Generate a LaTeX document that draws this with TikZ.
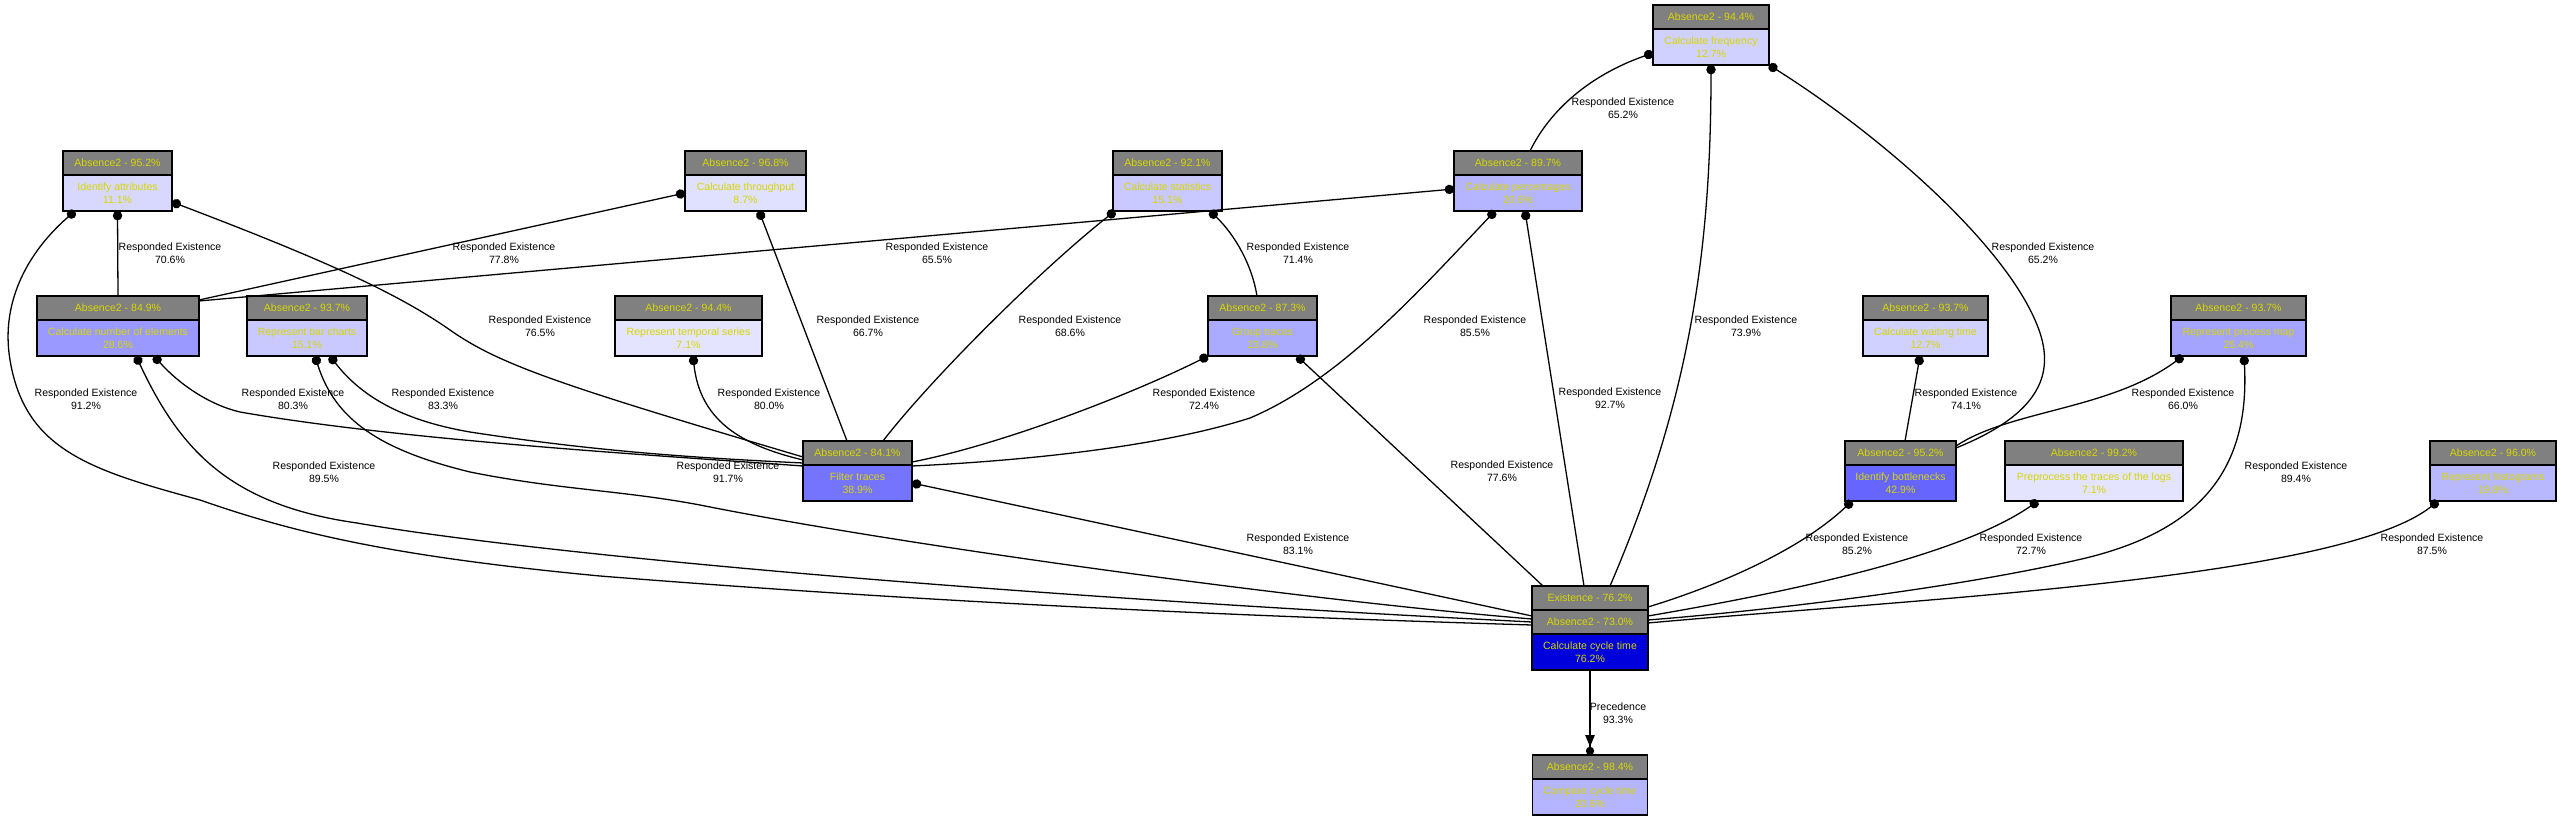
\documentclass[tikz,border=0pt]{standalone}
\usepackage{fontspec}
\setmainfont{Liberation Sans}
\usepackage{tikz}
\usetikzlibrary{arrows.meta,positioning,calc}
\definecolor{hdgray}{RGB}{128,128,128}
\definecolor{txtyellow}{RGB}{215,215,0}
\definecolor{f071}{RGB}{228,228,255}
\definecolor{f087}{RGB}{224,224,255}
\definecolor{f111}{RGB}{216,216,255}
\definecolor{f127}{RGB}{209,209,255}
\definecolor{f151}{RGB}{201,201,255}
\definecolor{f198}{RGB}{184,184,255}
\definecolor{f206}{RGB}{181,181,255}
\definecolor{f238}{RGB}{170,170,255}
\definecolor{f254}{RGB}{164,164,255}
\definecolor{f286}{RGB}{153,153,255}
\definecolor{f389}{RGB}{116,116,255}
\definecolor{f429}{RGB}{102,102,255}
\definecolor{f762}{RGB}{0,0,221}
\newdimen\px
\px=0.03cm

\begin{document}
\begin{tikzpicture}[
  x=0.03cm, y=-0.03cm,
  font=\fontsize{9}{11}\selectfont,
  hdr/.style={
    draw=black,
    line width=1.2pt,
    fill=hdgray,
    text=txtyellow,
    minimum height=24\px,
    outer sep=0pt,
    inner sep=1pt
  },
  act/.style={
    draw=black,
    line width=1.2pt,
    text=txtyellow,
    minimum height=36\px,
    outer sep=0pt,
    inner sep=1pt,
    align=center
  },
  re/.style={draw, line width=1.1pt, {Circle[length=8pt]}-},
  lbl/.style={align=center, inner sep=0pt}
]
\useasboundingbox (0,0) rectangle (2561,821);

\node[act,fill=f111,minimum width=109\px] (attr) at (117.5,193) {Identify attributes\\11.1\%};
\node[hdr,minimum width=109\px,above=0pt of attr] (attrh) {Absence2 - 95.2\%};
\node[act,fill=f286,minimum width=162\px] (nelem) at (118,338) {Calculate number of elements\\28.6\%};
\node[hdr,minimum width=162\px,above=0pt of nelem] (nelemh) {Absence2 - 84.9\%};
\node[act,fill=f151,minimum width=120\px] (bars) at (307,338) {Represent bar charts\\15.1\%};
\node[hdr,minimum width=120\px,above=0pt of bars] (barsh) {Absence2 - 93.7\%};
\node[act,fill=f087,minimum width=121\px] (thru) at (745.5,193) {Calculate throughput\\8.7\%};
\node[hdr,minimum width=121\px,above=0pt of thru] (thruh) {Absence2 - 96.8\%};
\node[act,fill=f071,minimum width=147\px] (temp) at (688.5,338) {Represent temporal series\\7.1\%};
\node[hdr,minimum width=147\px,above=0pt of temp] (temph) {Absence2 - 94.4\%};
\node[act,fill=f151,minimum width=109\px] (stats) at (1167.5,193) {Calculate statistics\\15.1\%};
\node[hdr,minimum width=109\px,above=0pt of stats] (statsh) {Absence2 - 92.1\%};
\node[act,fill=f238,minimum width=109\px] (group) at (1262.5,338) {Group traces\\23.8\%};
\node[hdr,minimum width=109\px,above=0pt of group] (grouph) {Absence2 - 87.3\%};
\node[act,fill=f206,minimum width=128\px] (perc) at (1518,193) {Calculate percentages\\20.6\%};
\node[hdr,minimum width=128\px,above=0pt of perc] (perch) {Absence2 - 89.7\%};
\node[act,fill=f127,minimum width=116\px] (freq) at (1711,47) {Calculate frequency\\12.7\%};
\node[hdr,minimum width=116\px,above=0pt of freq] (freqh) {Absence2 - 94.4\%};
\node[act,fill=f127,minimum width=125\px] (wait) at (1925.5,338) {Calculate waiting time\\12.7\%};
\node[hdr,minimum width=125\px,above=0pt of wait] (waith) {Absence2 - 93.7\%};
\node[act,fill=f254,minimum width=135\px] (pmap) at (2238.5,338) {Represent process map\\25.4\%};
\node[hdr,minimum width=135\px,above=0pt of pmap] (pmaph) {Absence2 - 93.7\%};
\node[act,fill=f429,minimum width=111\px] (bottle) at (1900.5,483) {Identify bottlenecks\\42.9\%};
\node[hdr,minimum width=111\px,above=0pt of bottle] (bottleh) {Absence2 - 95.2\%};
\node[act,fill=f071,minimum width=178\px] (prep) at (2094,483) {Preprocess the traces of the logs\\7.1\%};
\node[hdr,minimum width=178\px,above=0pt of prep] (preph) {Absence2 - 99.2\%};
\node[act,fill=f198,minimum width=126\px] (hist) at (2493,483) {Represent histograms\\19.8\%};
\node[hdr,minimum width=126\px,above=0pt of hist] (histh) {Absence2 - 96.0\%};
\node[act,fill=f389,minimum width=109\px] (filter) at (857.5,483) {Filter traces\\38.9\%};
\node[hdr,minimum width=109\px,above=0pt of filter] (filterh) {Absence2 - 84.1\%};
\node[act,fill=f762,minimum width=116\px] (cycle) at (1590,652) {Calculate cycle time\\76.2\%};
\node[hdr,minimum width=116\px,above=0pt of cycle] (cycleh2) {Absence2 - 73.0\%};
\node[hdr,minimum width=116\px,above=0pt of cycleh2] (cycleh1) {Existence - 76.2\%};
\node[act,fill=f206,minimum width=115\px] (cmp) at (1590,797) {Compare cycle time\\20.6\%};
\node[hdr,minimum width=115\px,above=0pt of cmp] (cmph) {Absence2 - 98.4\%};

\draw[re] (attr.south) -- (nelemh.north);
\draw[re] ($(attr.south east)+(0,-9)$) .. controls (330,262) and (400,295) .. (450,330)
  .. controls (500,365) and (560,385) .. ($(filterh.north west)+(0,16)$);
\draw[re] ($(attr.south west)+(12,0)$) .. controls (30,250) and (0,300) .. (10,360)
  .. controls (25,450) and (90,470) .. (200,500) .. controls (300,535) and (400,557) .. (600,576)
  .. controls (900,600) and (1200,615) .. ($(cycleh2.north west)+(0,15)$);
\draw[re] (thru.west) -- ($(nelemh.north east)+(0,4)$);
\draw[re] ($(perc.west)+(0,-4)$) -- ($(nelemh.north east)+(0,5)$);
\draw[re] ($(thru.south west)+(74,0)$) -- ($(filterh.north west)+(44,0)$);
\draw[re] ($(stats.south west)+(2,0)$) .. controls (1040,270) and (930,380) .. ($(filterh.north west)+(80,0)$);
\draw[re] ($(stats.south west)+(97,0)$) .. controls (1235,235) and (1252,265) .. ($(grouph.north west)+(49,0)$);
\draw[re] ($(perc.south west)+(41,0)$) .. controls (1420,290) and (1340,380) .. (1250,418)
  .. controls (1150,450) and (1000,462) .. ($(filterh.north east)+(0,25)$);
\draw[re] (group.south west) .. controls (1130,395) and (1000,445) .. ($(filterh.north east)+(0,21)$);
\draw[re] ($(group.south west)+(89,0)$) -- ($(cycleh1.north west)+(11,0)$);
\draw[re] ($(perc.south west)+(71,0)$) -- ($(cycleh1.north west)+(52,0)$);
\draw[re] ($(freq.west)+(0,6)$) .. controls (1590,75) and (1550,110) .. ($(perch.north west)+(76,0)$);
\draw[re] (freq.south) .. controls (1711,250) and (1690,400) .. ($(cycleh1.north west)+(78,0)$);
\draw[re] (freq.south east) .. controls (1880,135) and (2000,240) .. (2035,320)
  .. controls (2055,365) and (2050,410) .. ($(bottleh.north east)+(0,7)$);
\draw[re] ($(wait.south west)+(57,0)$) -- ($(bottleh.north west)+(60,0)$);
\draw[re] ($(pmap.south west)+(12,0)$) .. controls (2110,410) and (2010,410) .. ($(bottleh.north east)+(0,5)$);
\draw[re] ($(pmap.south west)+(73,0)$) .. controls (2250,470) and (2200,530) .. (2086,558)
  .. controls (1950,590) and (1750,612) .. ($(cycleh2.north east)+(0,10)$);
\draw[re] ($(bottle.south west)+(7,0)$) .. controls (1800,550) and (1720,585) .. ($(cycleh1.north east)+(0,21)$);
\draw[re] ($(prep.south west)+(33,0)$) .. controls (1960,555) and (1800,590) .. ($(cycleh2.north east)+(0,6)$);
\draw[re] ($(hist.south west)+(8,0)$) .. controls (2340,580) and (1900,600) .. ($(cycleh2.north east)+(0,13)$);
\draw[re] (filter.east) -- ($(cycleh2.north west)+(0,6)$);
\draw[re] ($(temp.south west)+(78,0)$) .. controls (700,420) and (740,445) .. ($(filterh.north west)+(0,19)$);
\draw[re] ($(nelem.south west)+(99,0)$) .. controls (180,450) and (230,505) .. (357,523)
  .. controls (500,548) and (900,590) .. ($(cycleh2.north west)+(0,12)$);
\draw[re] ($(nelem.south west)+(117,0)$) .. controls (180,385) and (210,405) .. (240,412)
  .. controls (400,440) and (650,455) .. ($(filterh.north west)+(0,25)$);
\draw[re] ($(bars.south west)+(68,0)$) .. controls (335,420) and (380,450) .. (470,472)
  .. controls (560,490) and (620,490) .. (700,505) .. controls (900,545) and (1300,600) .. ($(cycleh2.north west)+(0,9)$);
\draw[re] ($(bars.south west)+(83,0)$) .. controls (360,395) and (400,420) .. (470,432)
  .. controls (600,452) and (700,458) .. ($(filterh.north west)+(0,22)$);
\draw[draw, line width=1.1pt, -{Triangle[length=10pt,width=8pt] Circle[length=7pt]}] (cycle.south) -- (cmph.north);

\node[lbl] (re706) at (170,253) {Responded Existence\\70.6\%};
\node[lbl] (re765) at (540,326) {Responded Existence\\76.5\%};
\node[lbl] (re778) at (504,253) {Responded Existence\\77.8\%};
\node[lbl] (re655) at (937,253) {Responded Existence\\65.5\%};
\node[lbl] (re667) at (868,326) {Responded Existence\\66.7\%};
\node[lbl] (re686) at (1070,326) {Responded Existence\\68.6\%};
\node[lbl] (re714) at (1298,253) {Responded Existence\\71.4\%};
\node[lbl] (re855) at (1475,326) {Responded Existence\\85.5\%};
\node[lbl] (re724) at (1204,399) {Responded Existence\\72.4\%};
\node[lbl] (re776) at (1502,471) {Responded Existence\\77.6\%};
\node[lbl] (re927) at (1610,398) {Responded Existence\\92.7\%};
\node[lbl] (re652a) at (1623,108) {Responded Existence\\65.2\%};
\node[lbl] (re739) at (1746,326) {Responded Existence\\73.9\%};
\node[lbl] (re652b) at (2043,253) {Responded Existence\\65.2\%};
\node[lbl] (re741) at (1966,399) {Responded Existence\\74.1\%};
\node[lbl] (re660) at (2183,399) {Responded Existence\\66.0\%};
\node[lbl] (re894) at (2296,472) {Responded Existence\\89.4\%};
\node[lbl] (re852) at (1857,544) {Responded Existence\\85.2\%};
\node[lbl] (re727) at (2031,544) {Responded Existence\\72.7\%};
\node[lbl] (re875) at (2432,544) {Responded Existence\\87.5\%};
\node[lbl] (re831) at (1298,544) {Responded Existence\\83.1\%};
\node[lbl] (re800) at (769,399) {Responded Existence\\80.0\%};
\node[lbl] (re895) at (324,472) {Responded Existence\\89.5\%};
\node[lbl] (re803) at (293,399) {Responded Existence\\80.3\%};
\node[lbl] (re912) at (86,399) {Responded Existence\\91.2\%};
\node[lbl] (re917) at (728,472) {Responded Existence\\91.7\%};
\node[lbl] (re833) at (443,399) {Responded Existence\\83.3\%};
\node[lbl] (pr933) at (1618,713) {Precedence\\93.3\%};
\end{tikzpicture}
\end{document}
